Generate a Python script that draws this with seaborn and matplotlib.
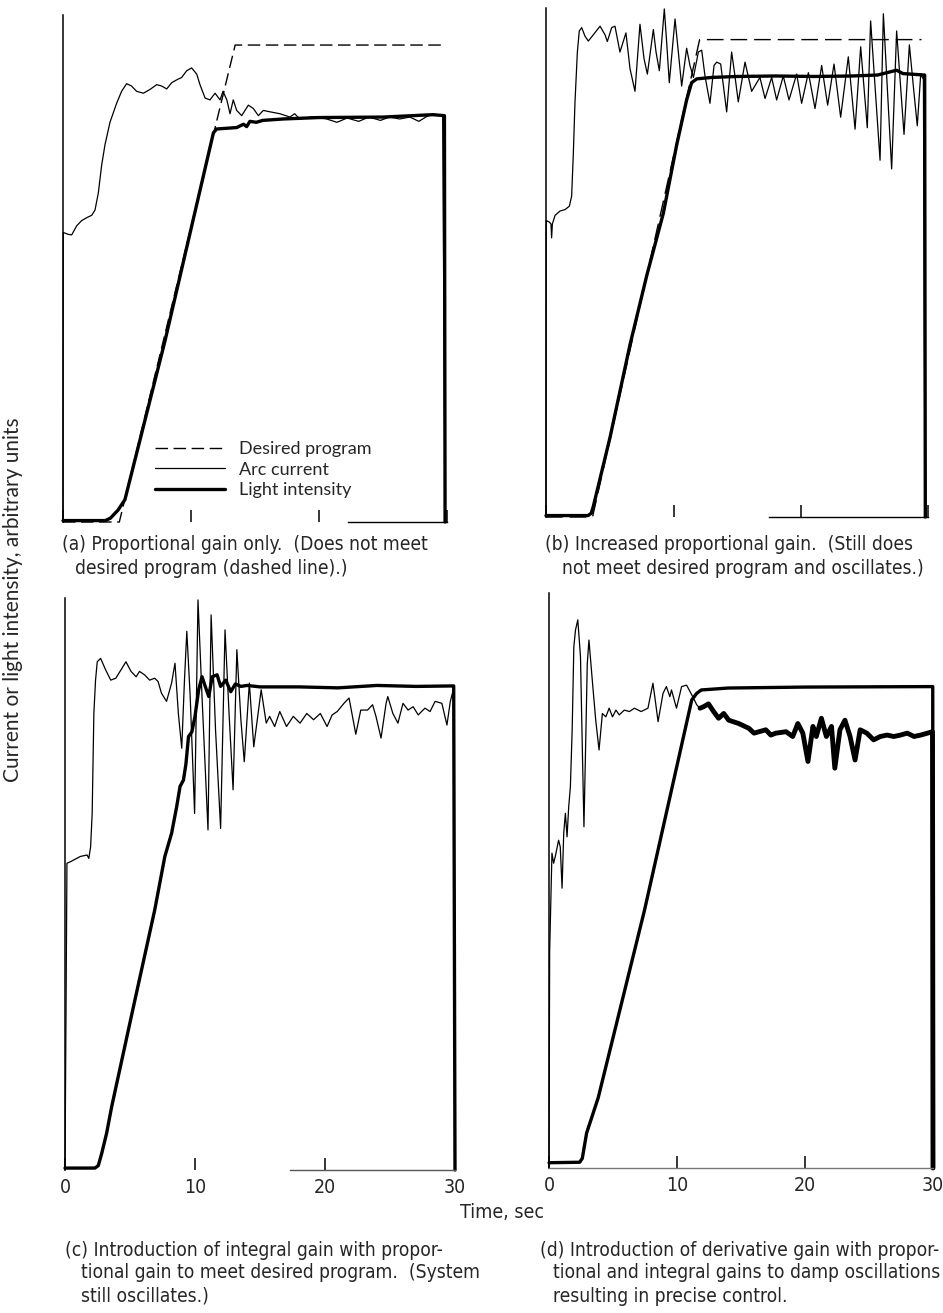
import matplotlib
matplotlib.use('Agg')
import matplotlib.pyplot as plt
import seaborn as sns

W, H = 943, 1313

# ---- (a) proportional gain only ----
a_des_t = [0, 4.4, 13.45, 29.6]
a_des_v = [0, 0, 100, 100]
a_arc_t = [0, 0.02, 0.42, 0.68, 1.07, 1.46, 1.85, 2.24, 2.5, 2.76, 3.02, 3.28, 3.67, 4.19, 4.58,
           4.97, 5.36, 5.75, 6.28, 6.8, 7.32, 7.71, 8.1, 8.49, 8.88, 9.27, 9.66, 10.05, 10.45,
           10.7, 11.1, 11.48, 11.88, 12.27, 12.5, 12.8, 13.05, 13.3, 13.57, 13.96, 14.48, 14.87,
           15.26, 15.65, 16.17, 16.95, 17.73, 18.1, 18.5, 19.56, 20.6, 21.4, 22.2, 23.1, 23.9,
           24.8, 25.5, 26.3, 27.1, 27.8, 28.4, 28.9, 29.66, 29.85]
a_arc_v = [0, 60.7, 60.3, 60.2, 62.1, 63.2, 63.8, 64.3, 65.4, 69.0, 74.8, 79.1, 83.8, 87.8, 90.3,
           91.9, 91.4, 90.3, 89.9, 90.7, 91.7, 91.4, 90.8, 92.1, 92.7, 93.2, 94.6, 95.2, 93.9,
           91.7, 88.9, 88.5, 89.9, 88.5, 90.3, 88.5, 85.6, 88.5, 86.3, 85.2, 87.4, 86.7,
           85.2, 86.3, 86.0, 85.6, 84.9, 85.6, 84.5, 85.0, 84.5, 83.8, 84.7, 84.0, 84.9,
           84.2, 84.9, 84.5, 84.9, 84.0, 85.0, 85.5, 85.2, 0]
a_light_t = [0, 3.3, 3.7, 4.3, 4.84, 7.97, 11.75, 12.0, 13.57, 14.1, 14.35, 14.6, 15.1, 15.6,
             17.2, 20, 25, 28.9, 29.8, 29.85]
a_light_v = [0.3, 0.3, 0.8, 2.5, 4.7, 38, 81.6, 82.4, 82.7, 83.4, 82.9, 84.0, 83.8, 84.2,
             84.5, 84.8, 84.9, 85.4, 85.2, 0]

# ---- (b) increased proportional gain ----
b_des_t = [0, 3.65, 12.05, 29.45]
b_des_v = [0, 0, 99.7, 99.7]
b_arc_t = [0, 0.02, 0.26, 0.39, 0.44, 0.5, 0.71, 1.1, 1.49, 1.83, 2.01, 2.14, 2.27, 2.46, 2.61,
           2.8, 3.06, 3.32, 3.71, 4.24, 4.63, 4.81, 5.15, 5.41, 5.8, 6.27, 6.59, 6.98, 7.37,
           7.69, 7.95, 8.42, 8.63, 8.89, 9.28, 9.46, 9.67, 10.12, 10.38, 10.64, 11.03, 11.29,
           11.56, 11.95, 12.21, 12.47, 12.86, 13.18, 13.39, 13.7, 14.17, 14.56, 14.82, 15.08,
           15.61, 16.13, 16.78, 17.18, 17.7, 18.09, 18.61, 19.06, 19.66, 20.05, 20.58, 21.1,
           21.62, 22.09, 22.59, 23.11, 23.71, 24.24, 24.68, 25.2, 25.46, 26.2, 26.46, 27.11,
           27.5, 28.08, 28.5, 28.81, 29.12, 29.39, 29.6, 29.73]
b_arc_v = [0, 61.9, 61.6, 61.2, 58.3, 61.2, 63.0, 63.9, 64.2, 64.9, 67.0, 75.6, 86.4, 97.1, 101.5,
           102.2, 100.4, 99.4, 100.7, 102.5, 100.7, 99.3, 102.2, 102.5, 97.1, 101.1, 93.6, 88.9, 102.9,
           95.7, 92.5, 101.8, 97.1, 93.2, 106.1, 99.3, 90.7, 104.0, 97.1, 90.0, 97.9, 94.3,
           91.8, 97.1, 97.5, 92.1, 86.4, 94.3, 95.0, 94.6, 84.6, 97.1, 92.1, 86.7,
           95.0, 88.9, 91.8, 87.4, 91.8, 87.1, 92.1, 87.1, 92.5, 86.4, 92.8, 85.3,
           94.3, 86.0, 94.6, 83.5, 96.1, 81.0, 98.2, 81.3, 103.6, 74.5, 105.1, 72.7,
           101.5, 79.9, 98.6, 90.0, 81.7, 92.5, 91.4, 0]
b_light_t = [0, 3.3, 3.55, 3.71, 5.02, 6.59, 7.9, 9.2, 10.25, 11.03, 11.42, 11.82, 13, 15, 18,
             21, 24, 26, 27.5, 28, 29.7, 29.75]
b_light_v = [0.3, 0.3, 0.8, 2.2, 16.6, 36.0, 50.4, 63.4, 77.7, 87.1, 90.7, 91.5, 91.8, 92.0, 92.1,
             92.0, 92.1, 92.3, 93.3, 92.6, 92.3, 0]

# ---- (c) proportional + integral ----
c_arc_t = [0, 0.15, 0.41, 1.18, 1.7, 1.83, 1.97, 2.09, 2.22, 2.35, 2.48, 2.74, 3.13, 3.52, 3.91,
           4.3, 4.69, 5.08, 5.47, 5.73, 6.12, 6.51, 6.9, 7.16, 7.42, 7.81, 8.2, 8.46, 8.72, 8.98,
           9.19, 9.37, 9.63, 9.97, 10.23, 10.54, 11.0, 11.24, 11.58, 11.97, 12.31, 12.62, 12.93,
           13.22, 13.53, 13.79, 14.18, 14.52, 15.09, 15.48, 15.74, 16.13, 16.52, 17.04, 17.56,
           18.08, 18.6, 19.12, 19.64, 20.16, 20.55, 20.94, 21.46, 21.85, 22.37, 22.75, 23.27,
           23.66, 23.92, 24.31, 24.7, 24.83, 25.22, 25.61, 26.0, 26.39, 26.78, 27.17, 27.69,
           28.08, 28.47, 28.99, 29.38, 29.64, 29.9, 30.0]
c_arc_v = [0, 63.5, 63.8, 64.9, 65.2, 64.5, 66.9, 73.8, 94.5, 101.4, 105.2, 105.9, 103.5, 101.4, 101.8,
           103.5, 105.2, 103.2, 102.1, 103.2, 102.5, 101.4, 101.8, 101.1, 98.7, 97.0, 100.8, 104.9, 94.5, 87.3,
           101.4, 111.5, 98.0, 73.8, 118.0, 98.0, 70.4, 114.9, 91.1, 70.7, 111.8, 94.5, 78.7,
           107.7, 93.2, 84.5, 100.8, 87.6, 99.4, 92.5, 93.9, 91.8, 94.9, 91.8, 93.9,
           92.5, 94.5, 93.2, 94.5, 91.8, 94.2, 94.9, 96.6, 97.7, 90.2, 95.2, 95.2,
           96.3, 93.9, 89.4, 96.6, 98.0, 94.5, 92.5, 96.6, 95.2, 95.9, 94.2, 95.6,
           94.9, 97.0, 96.6, 92.1, 97.0, 99.7, 0]
c_light_t = [0, 2.3, 2.56, 2.82, 3.2, 3.59, 5.2, 6.9, 7.68, 8.2, 8.59, 8.85, 9.11, 9.3, 9.5, 9.76,
             10.0, 10.28, 10.54, 10.8, 11.06, 11.32, 11.7, 11.97, 12.36, 12.75, 13.1, 13.53, 14,
             15, 18, 21, 24, 27, 29.9, 30.0]
c_light_v = [0.4, 0.4, 0.9, 3.4, 7.6, 13.1, 33, 53.8, 64.9, 69.7, 75.2, 79.4, 80.7, 84, 89.7, 90.7,
             93.9, 99.4, 102.1, 100, 98.0, 102.1, 102.5, 100.1, 101.4, 99.0, 100.6, 100.1, 100.3,
             100, 100, 99.8, 100.3, 100.1, 100.2, 0]

# ---- (d) proportional + integral + derivative ----
d_arc_t = [0, 0.05, 0.23, 0.36, 0.49, 0.75, 0.88, 1.02, 1.15, 1.28, 1.41, 1.54, 1.67, 1.81, 1.94,
           2.07, 2.25, 2.46, 2.6, 2.73, 2.86, 2.99, 3.12, 3.38, 3.65, 3.91, 4.17, 4.44, 4.7, 4.96,
           5.23, 5.49, 5.88, 6.28, 6.67, 7.2, 7.73, 8.12, 8.3, 8.52, 8.91, 9.17, 9.44, 9.57, 9.96,
           10.36, 10.75, 11.09, 11.36, 11.54, 11.8]
d_arc_v = [0, 45, 65.6, 63.5, 64.9, 68.3, 66.9, 58.3, 69.7, 73.9, 69.0, 75.3, 79.4, 91.3, 108.6,
           112.1, 114.2, 106.5, 87.8, 71.1, 87.8, 105.1, 110.0, 101.7, 93.3, 87.1, 94.7, 94.0, 95.8, 94.0,
           95.4, 94.4, 95.4, 95.1, 95.8, 95.1, 95.8, 101, 97.5, 93.0, 98.9, 100.3, 98.2, 99.6, 95.8,
           100.3, 100.6, 98.9, 97.5, 96.5, 95.8]
# after ~12 s the arc current chatters fast and prints as a dark band
d_band_t = [11.8, 12.07, 12.46, 12.86, 13.25, 13.65, 14.04, 14.83, 15.62, 16.02, 16.41, 16.94, 17.33,
            17.73, 18.52, 19.04, 19.44, 19.83, 20.23, 20.62, 20.88, 21.28, 21.67, 22.07, 22.33,
            22.73, 23.12, 23.52, 23.91, 24.31, 24.83, 25.36, 25.88, 26.41, 26.94, 27.46, 27.99,
            28.52, 29.04, 29.57, 29.96, 30.0]
d_band_v = [95.8, 96.1, 96.7, 95.1, 93.7, 94.7, 93.3, 92.6, 91.6, 90.6, 90.9, 91.3, 90.2,
            90.6, 90.9, 89.9, 92.6, 90.6, 84.7, 92.0, 89.9, 93.7, 89.9, 92.0, 83.3,
            91.3, 93.3, 89.9, 85.0, 91.3, 90.6, 89.2, 89.9, 90.2, 89.9, 90.2, 90.6,
            89.9, 90.2, 90.6, 90.9, 0]
d_light_t = [0, 2.4, 2.6, 2.94, 3.2, 3.84, 7.46, 11.15, 11.54, 11.9, 14, 20, 29.98, 30.0]
d_light_v = [1.1, 1.2, 2.0, 7.3, 9.4, 14.6, 53.7, 97.5, 98.9, 99.6, 100, 100.2, 100.3, 0]

x_ticks = [0, 10, 20, 30]
x_ticklabels = ['0', '10', '20', '30']

captions = {
    'a': ["(a) Proportional gain only.  (Does not meet",
          "desired program (dashed line).)"],
    'b': ["(b) Increased proportional gain.  (Still does",
          "not meet desired program and oscillates.)"],
    'c': ["(c) Introduction of integral gain with propor-",
          "tional gain to meet desired program.  (System",
          "still oscillates.)"],
    'd': ["(d) Introduction of derivative gain with propor-",
          "tional and integral gains to damp oscillations",
          "resulting in precise control."],
}

sns.set_theme(style='white')
plt.rcParams['font.family'] = ['DejaVu Sans']
NARROW = dict(family='DejaVu Sans', stretch='condensed')
WIDE = ['Lato', 'DejaVu Sans']

fig = plt.figure(figsize=(W / 100, H / 100), dpi=100)


def px_axes(left, right, top, bottom):
    return fig.add_axes([left / W, 1 - bottom / H, (right - left) / W, (bottom - top) / H])


def line(ax, t, v, lw, **kw):
    sns.lineplot(x=t, y=v, ax=ax, color='black', lw=lw, sort=False, estimator=None,
                 clip_on=False, **kw)


def style_panel(ax, ymax, labels, base_lo, base_color):
    ax.set_xlim(0, 30)
    ax.set_ylim(0, ymax)
    ax.set_yticks([])
    ax.set_xticks(x_ticks)
    if labels:
        ax.set_xticklabels(x_ticklabels, fontsize=14, **NARROW)
    else:
        ax.set_xticklabels([])
    ax.tick_params(axis='x', bottom=True, direction='in', length=9, width=1.1,
                   color='black', pad=6)
    for s in ['top', 'right']:
        ax.spines[s].set_visible(False)
    ax.spines['left'].set_color('black')
    ax.spines['left'].set_linewidth(1.1)
    ax.spines['bottom'].set_color(base_color)
    ax.spines['bottom'].set_linewidth(1.0)
    ax.spines['bottom'].set_bounds(base_lo, 30)
    ax.set_xlabel('')
    ax.set_ylabel('')
    ax.patch.set_alpha(0)


# panel (a)
ax = px_axes(63, 447, 15, 522)
line(ax, a_des_t, a_des_v, 1.0, linestyle=(0, (9, 4)), label='Desired program')
line(ax, a_arc_t, a_arc_v, 0.9, label='Arc current')
line(ax, a_light_t, a_light_v, 2.4, label='Light intensity')
style_panel(ax, 106.3, False, 22.3, 'black')
ax.legend(loc='upper left', bbox_to_anchor=(155 / W, 1 - 441 / H), bbox_transform=fig.transFigure,
          frameon=False, handlelength=3.9, handletextpad=0.75, labelspacing=0.25,
          borderpad=0, borderaxespad=0, prop={'family': WIDE, 'size': 13})

# panel (b)
ax = px_axes(546, 928.5, 8, 517)
line(ax, b_des_t, b_des_v, 1.0, linestyle=(0, (12, 5)))
line(ax, b_arc_t, b_arc_v, 0.9)
line(ax, b_light_t, b_light_v, 2.4)
style_panel(ax, 106.3, False, 17.5, 'black')

# panel (c)
ax = px_axes(65, 455, 598, 1170)
line(ax, c_arc_t, c_arc_v, 0.9)
line(ax, c_light_t, c_light_v, 2.4)
style_panel(ax, 118.4, True, 17.3, '#555555')

# panel (d)
ax = px_axes(549, 933, 593, 1168)
line(ax, d_arc_t, d_arc_v, 0.9)
line(ax, d_band_t, d_band_v, 3.5)
line(ax, d_light_t, d_light_v, 2.4)
style_panel(ax, 119.8, True, 0, '#777777')

# shared labels
fig.text(13 / W, 1 - 600 / H, 'Current or light intensity, arbitrary units', rotation=90,
         ha='center', va='center', fontsize=15, family=WIDE)
fig.text(502 / W, 1 - 1212 / H, 'Time, sec', ha='center', va='center', fontsize=14, **NARROW)

# captions
cap_pos = {'a': (62, 75, 545), 'b': (545, 562, 545), 'c': (65, 81, 1250), 'd': (540, 553, 1250)}
for key, lines in captions.items():
    x0, x1, y0 = cap_pos[key]
    for i, txt in enumerate(lines):
        fig.text((x0 if i == 0 else x1) / W, 1 - (y0 + 23 * i) / H, txt, ha='left', va='center',
                 fontsize=13.8, **NARROW)

fig.savefig('out.png', dpi=100)
